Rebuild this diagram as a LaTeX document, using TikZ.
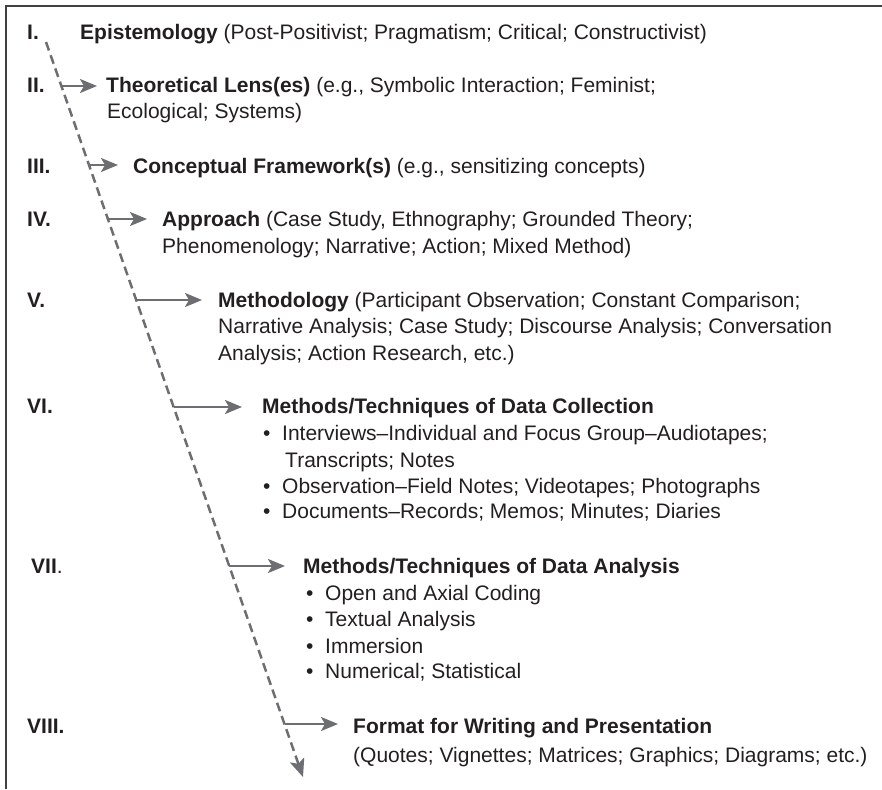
\documentclass[tikz,border=0pt]{standalone}
\usepackage{fontspec}
\setmainfont{Liberation Sans}
\usetikzlibrary{arrows.meta}
\definecolor{ink}{HTML}{231F20}
\definecolor{arrowgray}{HTML}{6D6E71}
\begin{document}
\begin{tikzpicture}[x=1pt,y=-1pt,
  txt/.style={anchor=base west, inner sep=0pt, text=ink, font=\fontsize{21}{26}\selectfont},
  numeral/.style={txt, font=\fontsize{21}{26}\selectfont\bfseries},
  flow/.style={draw=arrowgray, line width=2.5pt, -{Stealth[length=17pt,width=14pt,inset=4pt]}},
  spine/.style={draw=arrowgray, line width=2.5pt, dash pattern=on 9pt off 5pt, -{Stealth[length=18pt,width=15pt,inset=4pt]}},
  frameline/.style={draw=black!75, line width=2pt}]
\useasboundingbox (0,0) rectangle (882,789);
% frame (top and left edges)
\coordinate (fb) at (6,789);
\coordinate (fc) at (6,6);
\coordinate (fr) at (882,6);
\draw[frameline] (fb) -- (fc) -- (fr);
% spine
\coordinate (top) at (46,42);
\coordinate (bot) at (303,777);
\draw[spine] (top) -- (bot);
% numerals
\node[numeral] (n1) at (27,40) {I.};
\node[numeral] (n2) at (27,93) {II.};
\node[numeral] (n3) at (27,173) {III.};
\node[numeral] (n4) at (27,226) {IV.};
\node[numeral] (n5) at (27,307) {V.};
\node[numeral] (n6) at (27,413) {VI.};
\node[numeral] (n7) at (31,573) {VII\textmd{.}};
\node[numeral] (n8) at (27,733) {VIII.};
% I
\node[txt] (h1) at (80,40) {\textbf{Epistemology} (Post-Positivist; Pragmatism; Critical; Constructivist)};
% II
\node[txt] (h2) at (106,93) {\textbf{Theoretical Lens(es)} (e.g., Symbolic Interaction; Feminist;};
\node[txt] (d2) at (107,118) {Ecological; Systems)};
% III
\node[txt] (h3) at (133,173) {\textbf{Conceptual Framework(s)} (e.g., sensitizing concepts)};
% IV
\node[txt] (h4) at (162,226) {\textbf{Approach} (Case Study, Ethnography; Grounded Theory;};
\node[txt] (d4) at (162,253) {Phenomenology; Narrative; Action; Mixed Method)};
% V
\node[txt] (h5) at (218,307) {\textbf{Methodology} (Participant Observation; Constant Comparison;};
\node[txt] (d5a) at (218,333) {Narrative Analysis; Case Study; Discourse Analysis; Conversation};
\node[txt] (d5b) at (218,360) {Analysis; Action Research, etc.)};
% VI
\node[txt] (h6) at (262,413) {\textbf{Methods/Techniques of Data Collection}};
\node[txt] (b6a) at (263,440) {•};
\node[txt] (d6a) at (282,440) {Interviews–Individual and Focus Group–Audiotapes;};
\node[txt] (d6b) at (285,467) {Transcripts; Notes};
\node[txt] (b6c) at (263,493) {•};
\node[txt] (d6c) at (282,493) {Observation–Field Notes; Videotapes; Photographs};
\node[txt] (b6d) at (263,518) {•};
\node[txt] (d6d) at (282,518) {Documents–Records; Memos; Minutes; Diaries};
% VII
\node[txt] (h7) at (303,573) {\textbf{Methods/Techniques of Data Analysis}};
\node[txt] (b7a) at (306,600) {•};
\node[txt] (d7a) at (325,600) {Open and Axial Coding};
\node[txt] (b7b) at (306,626) {•};
\node[txt] (d7b) at (325,626) {Textual Analysis};
\node[txt] (b7c) at (306,653) {•};
\node[txt] (d7c) at (325,653) {Immersion};
\node[txt] (b7d) at (306,678) {•};
\node[txt] (d7d) at (325,678) {Numerical; Statistical};
% VIII
\node[txt] (h8) at (353,733) {\textbf{Format for Writing and Presentation}};
\node[txt] (d8) at (353,762) {(Quotes; Vignettes; Matrices; Graphics; Diagrams; etc.)};
% arrows from spine
\coordinate (s2) at (61.4,86);  \coordinate (e2) at (97,86);
\coordinate (s3) at (89.0,165); \coordinate (e3) at (118,165);
\coordinate (s4) at (107.9,219);\coordinate (e4) at (147,219);
\coordinate (s5) at (136.2,300);\coordinate (e5) at (202,300);
\coordinate (s6) at (173.6,407);\coordinate (e6) at (242,407);
\coordinate (s7) at (229.2,566);\coordinate (e7) at (285,566);
\coordinate (s8) at (284.5,724);\coordinate (e8) at (338,724);
\foreach \i in {2,...,8} {\draw[flow] (s\i) -- (e\i);}
\end{tikzpicture}
\end{document}
